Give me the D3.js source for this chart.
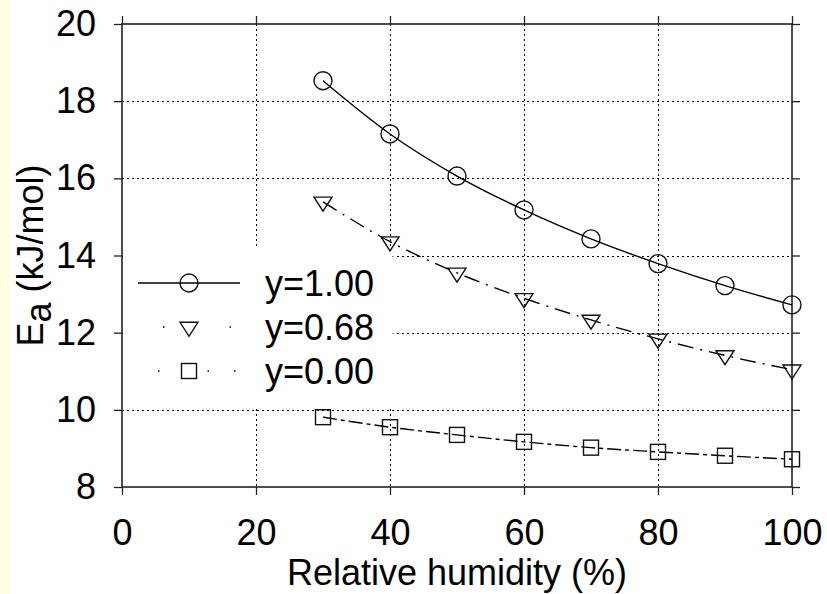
<!DOCTYPE html>
<html>
<head>
<meta charset="utf-8">
<script src="https://cdn.jsdelivr.net/npm/d3@7"></script>
<style>
  html, body { margin: 0; padding: 0; background: #fff; }
  #chart { width: 827px; height: 594px; }
  text { font-family: "Liberation Sans", Arial, sans-serif; }
</style>
</head>
<body>
<div id="chart"></div>
<script>
// values
const humidity = [30, 40, 50, 60, 70, 80, 90, 100];
const eaY100 = [18.53, 17.15, 16.06, 15.18, 14.43, 13.79, 13.22, 12.72];
const eaY068 = [15.39, 14.36, 13.55, 12.89, 12.33, 11.84, 11.41, 11.04];
const eaY000 = [9.81, 9.55, 9.35, 9.17, 9.02, 8.91, 8.81, 8.72];
const seriesNames = ['y=1.00', 'y=0.68', 'y=0.00'];
const xTicks = [0, 20, 40, 60, 80, 100];
const yTicks = [8, 10, 12, 14, 16, 18, 20];

function drawChart() {
  const W = 827, H = 594;
  const m = { top: 24, right: 35, bottom: 107, left: 122 };
  const w = W - m.left - m.right, h = H - m.top - m.bottom;
  const fontSize = 36;

  const svg = d3.select('#chart').append('svg')
    .attr('width', W).attr('height', H);

  // pale yellow strip on the left edge
  svg.append('rect').attr('x', 0).attr('y', 0).attr('width', 10).attr('height', H)
    .attr('fill', '#ffffe4');

  const g = svg.append('g').attr('transform', `translate(${m.left},${m.top})`);

  const x = d3.scaleLinear().domain([0, 100]).range([0, w]);
  const y = d3.scaleLinear().domain([8, 20]).range([h, 0]);

  // Grid lines (dotted)
  const gridStyle = sel => sel.attr('stroke', '#000').attr('stroke-width', 1.6)
    .attr('stroke-dasharray', '2,3').attr('shape-rendering', 'crispEdges');
  g.selectAll('.gx').data(xTicks.slice(1, -1)).join('line')
    .attr('x1', d => Math.round(x(d)) + 0.5).attr('x2', d => Math.round(x(d)) + 0.5)
    .attr('y1', 0).attr('y2', h)
    .call(gridStyle);
  g.selectAll('.gy').data(yTicks.slice(1, -1)).join('line')
    .attr('x1', 0).attr('x2', w)
    .attr('y1', d => Math.round(y(d)) + 0.5).attr('y2', d => Math.round(y(d)) + 0.5)
    .call(gridStyle);

  // legend box hides the grid behind it
  const lgTop = 247 - m.top, lgBottom = 407 - m.top, lgRight = 391 - m.left;
  g.append('rect').attr('x', 1).attr('y', lgTop).attr('width', lgRight - 1)
    .attr('height', lgBottom - lgTop).attr('fill', '#fff');
  g.append('rect').attr('x', lgRight).attr('y', lgTop).attr('width', 3)
    .attr('height', lgBottom - lgTop).attr('fill', '#fff').attr('opacity', 0.55);

  // Axes
  const axisStyle = sel => {
    sel.select('.domain').remove();
    sel.selectAll('.tick line').attr('stroke', '#222').attr('stroke-width', 1.3);
    sel.selectAll('text').attr('fill', '#000').style('font-size', fontSize + 'px')
      .style('font-family', '"Liberation Sans", Arial, sans-serif');
  };
  g.append('g').attr('transform', `translate(0,${h})`)
    .call(d3.axisBottom(x).tickValues(xTicks).tickSize(8).tickPadding(24).tickSizeOuter(0))
    .call(axisStyle);
  g.append('g')
    .call(d3.axisLeft(y).tickValues(yTicks).tickSize(8).tickPadding(18).tickSizeOuter(0))
    .call(axisStyle);
  g.append('g')
    .call(d3.axisTop(x).tickValues(xTicks).tickSize(8).tickFormat('').tickSizeOuter(0))
    .call(axisStyle);
  g.append('g').attr('transform', `translate(${w},0)`)
    .call(d3.axisRight(y).tickValues(yTicks).tickSize(8).tickFormat('').tickSizeOuter(0))
    .call(axisStyle);

  // frame
  g.append('rect').attr('x', 0).attr('y', 0).attr('width', w).attr('height', h)
    .attr('fill', 'none').attr('stroke', '#222').attr('stroke-width', 1.6);

  // Series
  const series = [
    { name: seriesNames[0], values: eaY100, dash: null, mark: 'circle' },
    { name: seriesNames[1], values: eaY068, dash: '16,7,2,7', mark: 'triangle' },
    { name: seriesNames[2], values: eaY000, dash: '14,4,4,4', mark: 'square' }
  ];

  const marker = (sel, type) => {
    if (type === 'circle') {
      sel.append('circle').attr('r', 9);
    } else if (type === 'triangle') {
      sel.append('path').attr('d', 'M-9,-4.7L9,-4.7L0,9.3Z');
    } else {
      sel.append('rect').attr('x', -7.5).attr('y', -7.5).attr('width', 15).attr('height', 15);
    }
    sel.selectAll('circle,path,rect').attr('fill', 'none').attr('stroke', '#111')
      .attr('stroke-width', 1.4);
  };

  const line = d3.line().x((d, i) => x(humidity[i])).y(d => y(d)).curve(d3.curveMonotoneX);

  series.forEach(s => {
    g.append('path').datum(s.values).attr('d', line)
      .attr('fill', 'none').attr('stroke', '#000').attr('stroke-width', 1.4)
      .attr('stroke-dasharray', s.dash);
    g.selectAll(null).data(s.values).join('g')
      .attr('transform', (d, i) => `translate(${x(humidity[i])},${y(d)})`)
      .each(function () { marker(d3.select(this), s.mark); });
  });

  // Legend
  const rows = [283, 327, 371];
  series.forEach((s, i) => {
    const ly = rows[i];
    svg.append('line').attr('x1', 138).attr('x2', 240).attr('y1', ly).attr('y2', ly)
      .attr('stroke', '#000').attr('stroke-width', 1.4)
      .attr('stroke-dasharray', s.dash ? (i === 1 ? '1.5,65,1.5,100' : '1.5,48,1.5,25,1.5,100') : null)
      .attr('stroke-dashoffset', s.dash ? (i === 1 ? -25 : -20) : null);
    const mg = svg.append('g').attr('transform', `translate(189,${ly})`);
    marker(mg, s.mark);
    svg.append('text').attr('x', 265).attr('y', ly).attr('dy', '0.35em')
      .attr('font-size', fontSize + 'px').attr('fill', '#000').text(s.name);
  });

  // X label
  svg.append('text').attr('x', m.left + w / 2).attr('y', 585)
    .attr('text-anchor', 'middle').attr('font-size', fontSize + 'px').attr('fill', '#000')
    .text('Relative humidity (%)');

  // Y label with subscript
  const yl = svg.append('text').attr('transform', `translate(43,${m.top + h / 2}) rotate(-90)`)
    .attr('text-anchor', 'middle').attr('font-size', fontSize + 'px').attr('fill', '#000');
  yl.append('tspan').text('E');
  yl.append('tspan').attr('dy', 8).text('a');
  yl.append('tspan').attr('dy', -8).text(' (kJ/mol)');
}

drawChart();
</script>
</body>
</html>
